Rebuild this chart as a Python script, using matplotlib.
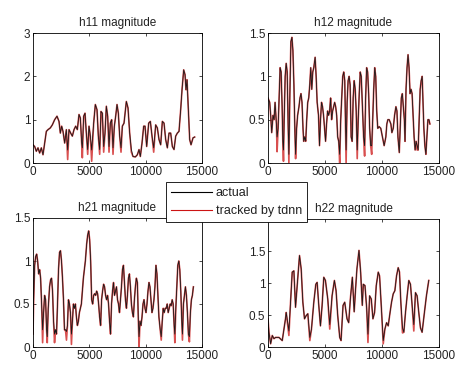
import matplotlib
matplotlib.use('Agg')
import matplotlib.pyplot as plt
from matplotlib.lines import Line2D

plt.rcParams['font.family'] = ['Liberation Sans', 'DejaVu Sans']

# h11 magnitude
h11_x = [0, 148, 296, 444, 592, 740, 888, 1036, 1184, 1332,
         1539, 1716, 1923, 2130, 2308, 2426, 2545, 2663, 2811, 2959,
         3077, 3196, 3344, 3492, 3640, 3788, 3935, 4083, 4202, 4320,
         4379, 4498, 4616, 4734, 4853, 4971, 5089, 5208, 5385, 5533,
         5681, 5800, 5918, 6036, 6155, 6273, 6391, 6510, 6628, 6747,
         6865, 6983, 7102, 7220, 7338, 7457, 7575, 7693, 7812, 7930,
         8078, 8285, 8433, 8581, 8729, 8877, 9084, 9262, 9410, 9528,
         9676, 9824, 9942, 10090, 10268, 10416, 10564, 10712, 10889, 11037,
         11185, 11333, 11481, 11629, 11777, 11925, 12073, 12221, 12369, 12517,
         12665, 12812, 12960, 13108, 13227, 13375, 13493, 13582, 13671, 13789,
         13907, 14026, 14203, 14351]
h11_actual = [0.42, 0.38, 0.27, 0.35, 0.23, 0.35, 0.19, 0.46, 0.73, 0.77,
              0.81, 0.88, 1.00, 1.08, 0.96, 0.69, 0.85, 0.73, 0.46, 0.77,
              0.30, 0.77, 0.69, 0.62, 0.77, 0.85, 0.77, 1.12, 1.04, 0.46,
              0.35, 1.08, 1.15, 0.69, 0.31, 0.85, 0.62, 0.30, 0.92, 1.35,
              1.23, 0.62, 0.31, 1.19, 1.15, 0.38, 0.69, 1.31, 1.08, 0.38,
              0.92, 1.00, 0.35, 0.85, 1.08, 1.35, 1.15, 0.62, 0.35, 0.85,
              0.92, 1.42, 1.27, 0.69, 0.31, 0.15, 0.14, 0.19, 0.31, 0.15,
              0.46, 0.85, 0.85, 0.38, 0.92, 0.96, 0.62, 0.35, 0.88, 0.81,
              0.54, 0.42, 0.96, 0.92, 0.54, 0.35, 0.69, 0.69, 0.38, 0.31,
              0.62, 0.69, 0.73, 1.23, 1.69, 2.15, 2.04, 1.69, 1.92, 1.23,
              0.54, 0.42, 0.58, 0.60]
h11_tracked = [0.42, 0.38, 0.27, 0.35, 0.23, 0.35, 0.19, 0.46, 0.73, 0.77,
               0.81, 0.88, 1.00, 1.08, 0.96, 0.69, 0.85, 0.73, 0.46, 0.77,
               0.08, 0.77, 0.69, 0.62, 0.77, 0.85, 0.77, 1.12, 1.04, 0.46,
               0.12, 1.08, 1.15, 0.69, 0.20, 0.85, 0.62, 0.04, 0.92, 1.35,
               1.23, 0.62, 0.20, 1.19, 1.15, 0.25, 0.69, 1.31, 1.08, 0.25,
               0.92, 1.00, 0.20, 0.85, 1.08, 1.35, 1.15, 0.62, 0.25, 0.85,
               0.92, 1.42, 1.27, 0.69, 0.25, 0.15, 0.14, 0.19, 0.31, 0.15,
               0.46, 0.85, 0.85, 0.38, 0.92, 0.96, 0.62, 0.25, 0.88, 0.81,
               0.54, 0.42, 0.96, 0.92, 0.54, 0.35, 0.69, 0.69, 0.38, 0.31,
               0.62, 0.69, 0.73, 1.23, 1.69, 2.15, 2.04, 1.69, 1.92, 1.23,
               0.54, 0.42, 0.58, 0.60]

# h12 magnitude
h12_x = [0, 148, 236, 325, 443, 532, 620, 738, 797, 886,
         974, 1063, 1152, 1240, 1299, 1358, 1417, 1506, 1595, 1683,
         1772, 1831, 1919, 2008, 2097, 2185, 2274, 2362, 2421, 2510,
         2599, 2717, 2805, 2894, 2983, 3071, 3130, 3219, 3307, 3396,
         3485, 3573, 3662, 3750, 3839, 3928, 4016, 4134, 4223, 4311,
         4430, 4518, 4607, 4695, 4784, 4872, 4961, 5050, 5138, 5227,
         5315, 5404, 5493, 5581, 5670, 5758, 5847, 5936, 6024, 6113,
         6201, 6290, 6379, 6467, 6556, 6644, 6733, 6792, 6851, 6940,
         7028, 7117, 7205, 7294, 7383, 7471, 7560, 7649, 7737, 7826,
         7914, 8003, 8091, 8180, 8268, 8387, 8475, 8564, 8652, 8741,
         8830, 8918, 9007, 9095, 9184, 9273, 9361, 9450, 9538, 9627,
         9745, 9893, 10040, 10188, 10336, 10424, 10513, 10631, 10779, 10867,
         10985, 11103, 11221, 11310, 11399, 11517, 11605, 11694, 11783, 11871,
         11960, 12019, 12107, 12196, 12284, 12373, 12462, 12550, 12639, 12728,
         12816, 12905, 12993, 13082, 13170, 13259, 13348, 13436, 13525, 13584,
         13672, 13761, 13850, 13938, 14027, 14116, 14204]
h12_actual = [0.75, 0.70, 0.55, 0.35, 0.55, 0.50, 0.70, 0.45, 0.30, 0.40,
              0.75, 1.10, 1.05, 0.65, 0.25, 0.15, 0.50, 1.00, 1.15, 1.05,
              0.40, 0.10, 0.80, 1.40, 1.45, 1.30, 0.90, 0.35, 0.10, 0.40,
              0.55, 0.65, 0.75, 0.80, 0.70, 0.40, 0.25, 0.30, 0.25, 0.50,
              0.70, 0.75, 0.90, 1.10, 0.85, 1.05, 1.10, 1.22, 1.00, 0.70,
              0.55, 0.20, 0.50, 0.70, 0.65, 0.55, 0.40, 0.25, 0.45, 0.60,
              0.55, 0.60, 0.75, 0.50, 0.60, 0.65, 0.70, 0.65, 0.55, 0.30,
              0.25, 0.10, 0.50, 0.75, 1.00, 1.05, 0.95, 0.50, 0.15, 0.70,
              0.95, 1.00, 0.90, 0.30, 0.25, 0.75, 0.95, 0.85, 0.60, 0.15,
              0.50, 0.80, 1.05, 1.00, 0.70, 0.30, 0.20, 0.75, 1.10, 1.05,
              0.80, 0.40, 0.20, 0.20, 0.50, 0.85, 1.10, 1.00, 0.60, 0.40,
              0.42, 0.40, 0.30, 0.20, 0.30, 0.45, 0.50, 0.50, 0.45, 0.35,
              0.40, 0.55, 0.65, 0.60, 0.30, 0.12, 0.45, 0.75, 0.80, 0.65,
              0.50, 0.25, 0.85, 1.10, 1.25, 1.10, 0.80, 0.85, 0.80, 0.55,
              0.30, 0.15, 0.25, 0.20, 0.15, 0.50, 0.85, 0.95, 1.00, 0.75,
              0.40, 0.20, 0.10, 0.30, 0.50, 0.50, 0.45]
h12_tracked = [0.75, 0.70, 0.55, 0.35, 0.55, 0.50, 0.70, 0.45, 0.13, 0.40,
               0.75, 1.10, 1.05, 0.65, 0.25, 0.02, 0.50, 1.00, 1.15, 1.05,
               0.40, 0.00, 0.80, 1.40, 1.45, 1.30, 0.90, 0.35, 0.05, 0.40,
               0.55, 0.65, 0.75, 0.80, 0.70, 0.40, 0.25, 0.30, 0.25, 0.50,
               0.70, 0.75, 0.90, 1.10, 0.85, 1.05, 1.10, 1.22, 1.00, 0.70,
               0.55, 0.20, 0.50, 0.70, 0.65, 0.55, 0.40, 0.25, 0.45, 0.60,
               0.55, 0.60, 0.75, 0.50, 0.60, 0.65, 0.70, 0.65, 0.55, 0.30,
               0.25, 0.00, 0.50, 0.75, 1.00, 1.05, 0.95, 0.50, 0.00, 0.70,
               0.95, 1.00, 0.90, 0.30, 0.25, 0.75, 0.95, 0.85, 0.60, 0.05,
               0.50, 0.80, 1.05, 1.00, 0.70, 0.30, 0.08, 0.75, 1.10, 1.05,
               0.80, 0.40, 0.20, 0.10, 0.50, 0.85, 1.10, 1.00, 0.60, 0.40,
               0.42, 0.40, 0.30, 0.20, 0.30, 0.45, 0.50, 0.50, 0.45, 0.35,
               0.40, 0.55, 0.65, 0.60, 0.30, 0.12, 0.45, 0.75, 0.80, 0.65,
               0.50, 0.25, 0.85, 1.10, 1.25, 1.10, 0.80, 0.85, 0.80, 0.55,
               0.30, 0.15, 0.25, 0.15, 0.15, 0.50, 0.85, 0.95, 1.00, 0.75,
               0.40, 0.20, 0.10, 0.30, 0.50, 0.50, 0.45]

# h21 magnitude
h21_x = [0, 59, 147, 235, 324, 412, 500, 588, 676, 765,
         853, 941, 1029, 1118, 1206, 1265, 1353, 1471, 1559, 1647,
         1735, 1824, 1912, 2000, 2088, 2176, 2265, 2353, 2441, 2529,
         2618, 2706, 2794, 2882, 2971, 3059, 3147, 3235, 3324, 3412,
         3500, 3588, 3676, 3765, 3853, 3941, 4029, 4118, 4206, 4294,
         4382, 4471, 4559, 4647, 4765, 4853, 4941, 5029, 5118, 5206,
         5294, 5382, 5471, 5559, 5647, 5735, 5824, 5912, 6000, 6088,
         6176, 6265, 6353, 6441, 6529, 6618, 6706, 6794, 6882, 6971,
         7059, 7147, 7235, 7324, 7412, 7500, 7588, 7676, 7765, 7853,
         7941, 8029, 8118, 8206, 8294, 8382, 8471, 8559, 8647, 8735,
         8824, 8912, 9000, 9088, 9176, 9265, 9353, 9412, 9500, 9588,
         9676, 9765, 9853, 9941, 10029, 10118, 10206, 10294, 10382, 10471,
         10559, 10647, 10735, 10824, 10912, 11000, 11088, 11176, 11294, 11382,
         11471, 11559, 11647, 11735, 11824, 11912, 12000, 12088, 12176, 12265,
         12353, 12441, 12529, 12588, 12676, 12765, 12853, 12941, 13029, 13118,
         13206, 13265, 13353, 13441, 13529, 13618, 13706, 13794, 13882, 13971,
         14059, 14147, 14235]
h21_actual = [0.15, 0.55, 0.95, 1.05, 1.08, 1.00, 0.85, 0.90, 0.80, 0.50,
              0.20, 0.40, 0.60, 0.55, 0.20, 0.12, 0.45, 0.70, 0.78, 0.80,
              0.65, 0.30, 0.15, 0.20, 0.15, 0.50, 0.90, 1.10, 1.12, 1.00,
              0.80, 0.55, 0.20, 0.20, 0.18, 0.25, 0.55, 0.50, 0.40, 0.15,
              0.30, 0.50, 0.45, 0.50, 0.35, 0.25, 0.30, 0.40, 0.45, 0.50,
              0.65, 0.80, 0.90, 1.00, 1.20, 1.30, 1.35, 1.25, 1.00, 0.55,
              0.50, 0.60, 0.62, 0.60, 0.65, 0.62, 0.50, 0.35, 0.25, 0.55,
              0.65, 0.73, 0.70, 0.60, 0.55, 0.60, 0.50, 0.30, 0.15, 0.50,
              0.65, 0.75, 0.60, 0.65, 0.70, 0.55, 0.50, 0.40, 0.55, 0.70,
              0.90, 0.95, 0.75, 0.55, 0.45, 0.60, 0.80, 0.85, 0.70, 0.50,
              0.40, 0.35, 0.55, 0.70, 0.80, 0.75, 0.30, 0.12, 0.30, 0.25,
              0.35, 0.50, 0.55, 0.45, 0.40, 0.50, 0.65, 0.75, 0.70, 0.55,
              0.40, 0.45, 0.55, 0.70, 0.95, 0.85, 0.60, 0.35, 0.20, 0.12,
              0.30, 0.45, 0.40, 0.45, 0.45, 0.50, 0.40, 0.45, 0.50, 0.48,
              0.55, 0.50, 0.25, 0.15, 0.45, 0.70, 0.95, 1.00, 0.90, 0.65,
              0.30, 0.15, 0.50, 0.60, 0.70, 0.60, 0.40, 0.15, 0.12, 0.40,
              0.55, 0.60, 0.70]
h21_tracked = [0.15, 0.55, 0.95, 1.05, 1.08, 1.00, 0.85, 0.90, 0.80, 0.50,
               0.05, 0.40, 0.60, 0.55, 0.20, 0.05, 0.45, 0.70, 0.78, 0.80,
               0.65, 0.30, 0.05, 0.20, 0.15, 0.50, 0.90, 1.10, 1.12, 1.00,
               0.80, 0.55, 0.20, 0.20, 0.08, 0.25, 0.55, 0.50, 0.40, 0.03,
               0.30, 0.50, 0.45, 0.50, 0.35, 0.25, 0.30, 0.40, 0.45, 0.50,
               0.65, 0.80, 0.90, 1.00, 1.20, 1.30, 1.35, 1.25, 1.00, 0.55,
               0.50, 0.60, 0.62, 0.60, 0.65, 0.62, 0.50, 0.35, 0.25, 0.55,
               0.65, 0.73, 0.70, 0.60, 0.55, 0.60, 0.50, 0.30, 0.15, 0.50,
               0.65, 0.75, 0.60, 0.65, 0.70, 0.55, 0.50, 0.40, 0.55, 0.70,
               0.90, 0.95, 0.75, 0.55, 0.45, 0.60, 0.80, 0.85, 0.70, 0.50,
               0.40, 0.35, 0.55, 0.70, 0.80, 0.75, 0.30, 0.00, 0.30, 0.25,
               0.35, 0.50, 0.55, 0.45, 0.40, 0.50, 0.65, 0.75, 0.70, 0.55,
               0.40, 0.45, 0.55, 0.70, 0.95, 0.85, 0.60, 0.35, 0.20, 0.08,
               0.30, 0.45, 0.40, 0.45, 0.45, 0.50, 0.40, 0.45, 0.50, 0.48,
               0.55, 0.50, 0.25, 0.05, 0.45, 0.70, 0.95, 1.00, 0.90, 0.65,
               0.30, 0.08, 0.50, 0.60, 0.70, 0.60, 0.40, 0.15, 0.06, 0.40,
               0.55, 0.60, 0.70]

# h22 magnitude
h22_x = [0, 84, 230, 376, 522, 667, 958, 1250, 1541, 1599,
         1832, 1978, 2124, 2270, 2415, 2561, 2765, 2911, 3057, 3202,
         3348, 3494, 3669, 3814, 4018, 4193, 4310, 4455, 4601, 4747,
         4893, 5038, 5242, 5417, 5621, 5825, 5971, 6117, 6292, 6408,
         6583, 6729, 6933, 7079, 7224, 7400, 7560, 7680, 7800, 7981,
         8127, 8272, 8360, 8506, 8651, 8768, 8914, 9059, 9205, 9351,
         9496, 9671, 9788, 9934, 10108, 10254, 10400, 10545, 10691, 10837,
         10983, 11128, 11274, 11420, 11536, 11653, 11798, 11915, 12061, 12206,
         12352, 12498, 12643, 12789, 12935, 13080, 13226, 13372, 13518, 13722,
         13897, 14101]
h22_actual = [0.44, 0.23, 0.05, 0.18, 0.13, 0.15, 0.15, 0.10, 0.45, 0.54,
              0.25, 0.70, 1.17, 1.19, 0.62, 0.96, 1.43, 1.22, 0.70, 0.44,
              0.49, 0.52, 0.15, 0.28, 0.70, 0.98, 1.01, 0.65, 0.33, 0.65,
              1.09, 1.04, 0.75, 0.35, 0.80, 1.04, 0.88, 0.49, 0.15, 0.10,
              0.65, 0.70, 0.44, 0.38, 0.75, 1.09, 0.55, 0.90, 1.22, 1.51,
              1.17, 0.65, 0.98, 0.96, 0.62, 0.20, 0.80, 0.75, 0.44, 0.54,
              0.96, 1.17, 1.11, 0.65, 0.10, 0.28, 0.38, 0.33, 0.52, 0.70,
              0.83, 0.88, 1.11, 1.24, 1.17, 0.70, 0.30, 0.23, 0.54, 0.80,
              1.04, 0.98, 0.65, 0.35, 0.85, 0.80, 0.54, 0.30, 0.23, 0.54,
              0.80, 1.04]
h22_tracked = [0.44, 0.23, 0.05, 0.18, 0.13, 0.15, 0.15, 0.10, 0.45, 0.54,
               0.18, 0.70, 1.17, 1.19, 0.62, 0.96, 1.43, 1.22, 0.70, 0.44,
               0.49, 0.52, 0.10, 0.28, 0.70, 0.98, 1.01, 0.65, 0.33, 0.65,
               1.09, 1.04, 0.75, 0.28, 0.80, 1.04, 0.88, 0.49, 0.15, 0.10,
               0.65, 0.70, 0.44, 0.38, 0.75, 1.09, 0.55, 0.90, 1.22, 1.51,
               1.17, 0.65, 0.98, 0.96, 0.62, 0.07, 0.80, 0.75, 0.44, 0.54,
               0.96, 1.17, 1.11, 0.65, 0.05, 0.28, 0.38, 0.33, 0.52, 0.70,
               0.83, 0.88, 1.11, 1.24, 1.17, 0.70, 0.22, 0.23, 0.54, 0.80,
               1.04, 0.98, 0.65, 0.25, 0.85, 0.80, 0.54, 0.30, 0.23, 0.54,
               0.80, 1.04]

x_ticks = [0, 5000, 10000, 15000]
x_labels = ['0', '5000', '10000', '15000']
legend_labels = ['actual', 'tracked by tdnn']

FS = 8.5
RED = '#cc1414'


def draw_panel(ax, x, actual, tracked, title, ymax, yticks, ylabels):
    # tracked underneath so it shows as a red halo and in the deeper dips
    ax.plot(x, tracked, color=RED, lw=1.2, alpha=0.75)
    ax.plot(x, actual, color='#1a1a1a', lw=0.6)
    ax.set_xlim(0, 15000)
    ax.set_ylim(0, ymax)
    ax.set_xticks(x_ticks)
    ax.set_xticklabels(x_labels)
    ax.set_yticks(yticks)
    ax.set_yticklabels(ylabels)
    ax.tick_params(direction='in', length=2.5, width=0.5, labelsize=FS,
                   top=True, right=True, pad=2, labelcolor='#222222')
    for s in ax.spines.values():
        s.set_linewidth(0.6)
    ax.set_title(title, fontsize=FS, pad=5, color='#222222')


fig = plt.figure(figsize=(4.56, 3.65), dpi=100)
ax1 = fig.add_axes([33/456, 1-163/365, 169/456, 130/365])
ax2 = fig.add_axes([268/456, 1-163/365, 171/456, 130/365])
ax3 = fig.add_axes([33/456, 1-347/365, 169/456, 129/365])
ax4 = fig.add_axes([268/456, 1-347/365, 171/456, 128/365])

draw_panel(ax1, h11_x, h11_actual, h11_tracked, 'h11 magnitude', 3,
           [0, 1, 2, 3], ['0', '1', '2', '3'])
draw_panel(ax2, h12_x, h12_actual, h12_tracked, 'h12 magnitude', 1.5,
           [0, 0.5, 1, 1.5], ['0', '0.5', '1', '1.5'])
draw_panel(ax3, h21_x, h21_actual, h21_tracked, 'h21 magnitude', 1.5,
           [0, 0.5, 1, 1.5], ['0', '0.5', '1', '1.5'])
draw_panel(ax4, h22_x, h22_actual, h22_tracked, 'h22 magnitude', 2,
           [0, 0.5, 1, 1.5], ['0', '0.5', '1', '1.5'])

handles = [Line2D([], [], color='black', lw=0.8),
           Line2D([], [], color=RED, lw=0.8)]
leg = fig.legend(handles, legend_labels, loc='upper left',
                 bbox_to_anchor=(166/456, 1-182/365), fontsize=FS + 0.5,
                 frameon=True, fancybox=False, framealpha=1, edgecolor='black',
                 borderaxespad=0, borderpad=0.4, handlelength=3.3,
                 handletextpad=0.3, labelspacing=0.5)
leg.get_frame().set_linewidth(0.6)
for t in leg.get_texts():
    t.set_color('#222222')

fig.savefig('out.png', dpi=100, facecolor='white')
